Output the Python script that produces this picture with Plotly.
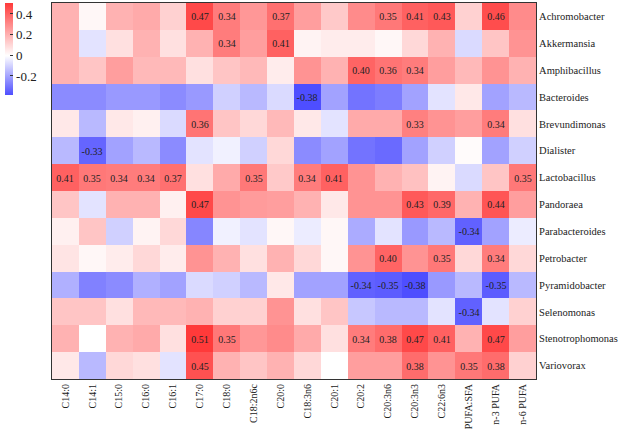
import plotly.graph_objects as go

# fatty acids (columns) and bacteria (rows)
acids = ["C14:0", "C14:1", "C15:0", "C16:0", "C16:1", "C17:0", "C18:0", "C18:2n6c", "C20:0",
         "C18:3n6", "C20:1", "C20:2", "C20:3n6", "C20:3n3", "C22:6n3", "PUFA:SFA", "n-3 PUFA", "n-6 PUFA"]

bacteria = ["Achromobacter", "Akkermansia", "Amphibacillus", "Bacteroides", "Brevundimonas", "Dialister",
            "Lactobacillus", "Pandoraea", "Parabacteroides", "Petrobacter", "Pyramidobacter", "Selenomonas",
            "Stenotrophomonas", "Variovorax"]

# correlation values, one list per bacterium
achromobacter = [0.20, 0.02, 0.20, 0.22, 0.12, 0.47, 0.34, 0.27, 0.37, 0.25, 0.14, 0.30, 0.35, 0.41, 0.43, 0.12, 0.46, 0.30]
akkermansia = [0.20, -0.06, 0.08, 0.20, 0.08, 0.20, 0.34, 0.25, 0.41, 0.03, 0.05, 0.05, 0.02, 0.10, 0.20, -0.08, 0.15, 0.28]
amphibacillus = [0.20, 0.15, 0.25, 0.18, 0.18, 0.08, 0.15, 0.18, 0.05, 0.28, 0.20, 0.40, 0.36, 0.34, 0.25, 0.18, 0.28, 0.20]
bacteroides = [-0.25, -0.25, -0.22, -0.22, -0.25, -0.22, -0.10, -0.15, -0.08, -0.38, -0.20, -0.30, -0.28, -0.20, -0.06, 0.06, -0.20, -0.15]
brevundimonas = [0.06, -0.15, 0.06, 0.04, -0.08, 0.36, 0.15, 0.10, 0.18, 0.06, -0.06, 0.22, 0.22, 0.33, 0.28, 0.25, 0.34, 0.08]
dialister = [-0.15, -0.33, -0.20, -0.15, -0.25, -0.06, -0.03, -0.10, 0.10, -0.25, -0.20, -0.30, -0.32, -0.20, -0.10, 0.01, -0.20, -0.10]
lactobacillus = [0.41, 0.35, 0.34, 0.34, 0.37, 0.08, 0.22, 0.35, 0.14, 0.34, 0.41, 0.28, 0.20, 0.16, 0.03, -0.08, 0.15, 0.35]
pandoraea = [0.15, -0.06, 0.20, 0.20, 0.04, 0.47, 0.28, 0.26, 0.25, 0.20, 0.06, 0.28, 0.28, 0.43, 0.39, 0.20, 0.44, 0.25]
parabacteroides = [0.04, 0.15, -0.10, 0.03, 0.10, -0.26, -0.03, -0.06, 0.02, -0.04, 0.02, -0.18, -0.06, -0.22, -0.15, -0.34, -0.20, -0.04]
petrobacter = [0.07, 0.02, 0.05, 0.10, 0.05, 0.28, 0.20, 0.08, 0.20, 0.10, 0.02, 0.28, 0.40, 0.28, 0.35, 0.10, 0.34, 0.10]
pyramidobacter = [-0.17, -0.27, -0.25, -0.17, -0.20, -0.08, -0.10, -0.15, 0.06, -0.20, -0.20, -0.34, -0.35, -0.38, -0.22, -0.15, -0.35, -0.15]
selenomonas = [0.15, 0.15, 0.08, 0.18, 0.18, 0.20, 0.12, 0.12, 0.28, 0.08, 0.15, -0.12, -0.15, -0.15, -0.06, -0.34, -0.06, 0.12]
stenotrophomonas = [0.20, 0.00, 0.20, 0.22, 0.08, 0.51, 0.35, 0.27, 0.30, 0.22, 0.08, 0.34, 0.38, 0.47, 0.41, 0.20, 0.47, 0.25]
variovorax = [0.06, -0.15, 0.10, 0.08, -0.06, 0.45, 0.20, 0.15, 0.20, 0.10, 0.00, 0.25, 0.25, 0.38, 0.28, 0.35, 0.38, 0.12]

z = [achromobacter, akkermansia, amphibacillus, bacteroides, brevundimonas, dialister, lactobacillus,
     pandoraea, parabacteroides, petrobacter, pyramidobacter, selenomonas, stenotrophomonas, variovorax]

# only the significant ones get a label
labels = [["%.2f" % v if abs(v) >= 0.33 else "" for v in row] for row in z]

zmin, zmax = -0.38, 0.51
mid = -zmin / (zmax - zmin)

fig = go.Figure(go.Heatmap(
    z=z, x=acids, y=bacteria,
    text=labels, texttemplate="%{text}",
    textfont=dict(family="Liberation Serif", size=10, color="#222222"),
    zmin=zmin, zmax=zmax,
    colorscale=[[0, "rgb(78,78,255)"], [mid, "rgb(255,255,255)"], [1, "rgb(255,58,58)"]],
    xgap=0, ygap=0,
    colorbar=dict(
        xref="container", yref="container",
        x=5 / 622, xanchor="left", y=1 - 3 / 433, yanchor="top",
        len=92, lenmode="pixels", thickness=8, xpad=0, ypad=0,
        outlinewidth=0, ticks="inside", ticklen=3, tickcolor="#333333",
        tickvals=[0.4, 0.2, 0, -0.2], ticktext=["0.4", "0.2", "0", "-0.2"],
        tickfont=dict(family="Liberation Serif", size=13, color="#222222"),
    ),
))

fig.update_layout(
    width=622, height=433,
    margin=dict(l=52, r=86, t=3, b=54, autoexpand=False),
    paper_bgcolor="white", plot_bgcolor="white",
    font=dict(family="Liberation Serif", size=10, color="#222222"),
)
fig.update_xaxes(tickangle=-90, showline=True, mirror=True, linecolor="#333333", linewidth=1,
                 showgrid=False, ticks="", automargin=False, tickfont=dict(size=10))
fig.update_yaxes(autorange="reversed", side="right", showline=True, mirror=True, linecolor="#333333",
                 linewidth=1, showgrid=False, ticks="", automargin=False, tickfont=dict(size=10.5))

# page body has a default margin, drop it so the figure sits at the corner
fig.write_html("out.html", config={"displayModeBar": False},
               post_script="document.body.style.margin='0';")
